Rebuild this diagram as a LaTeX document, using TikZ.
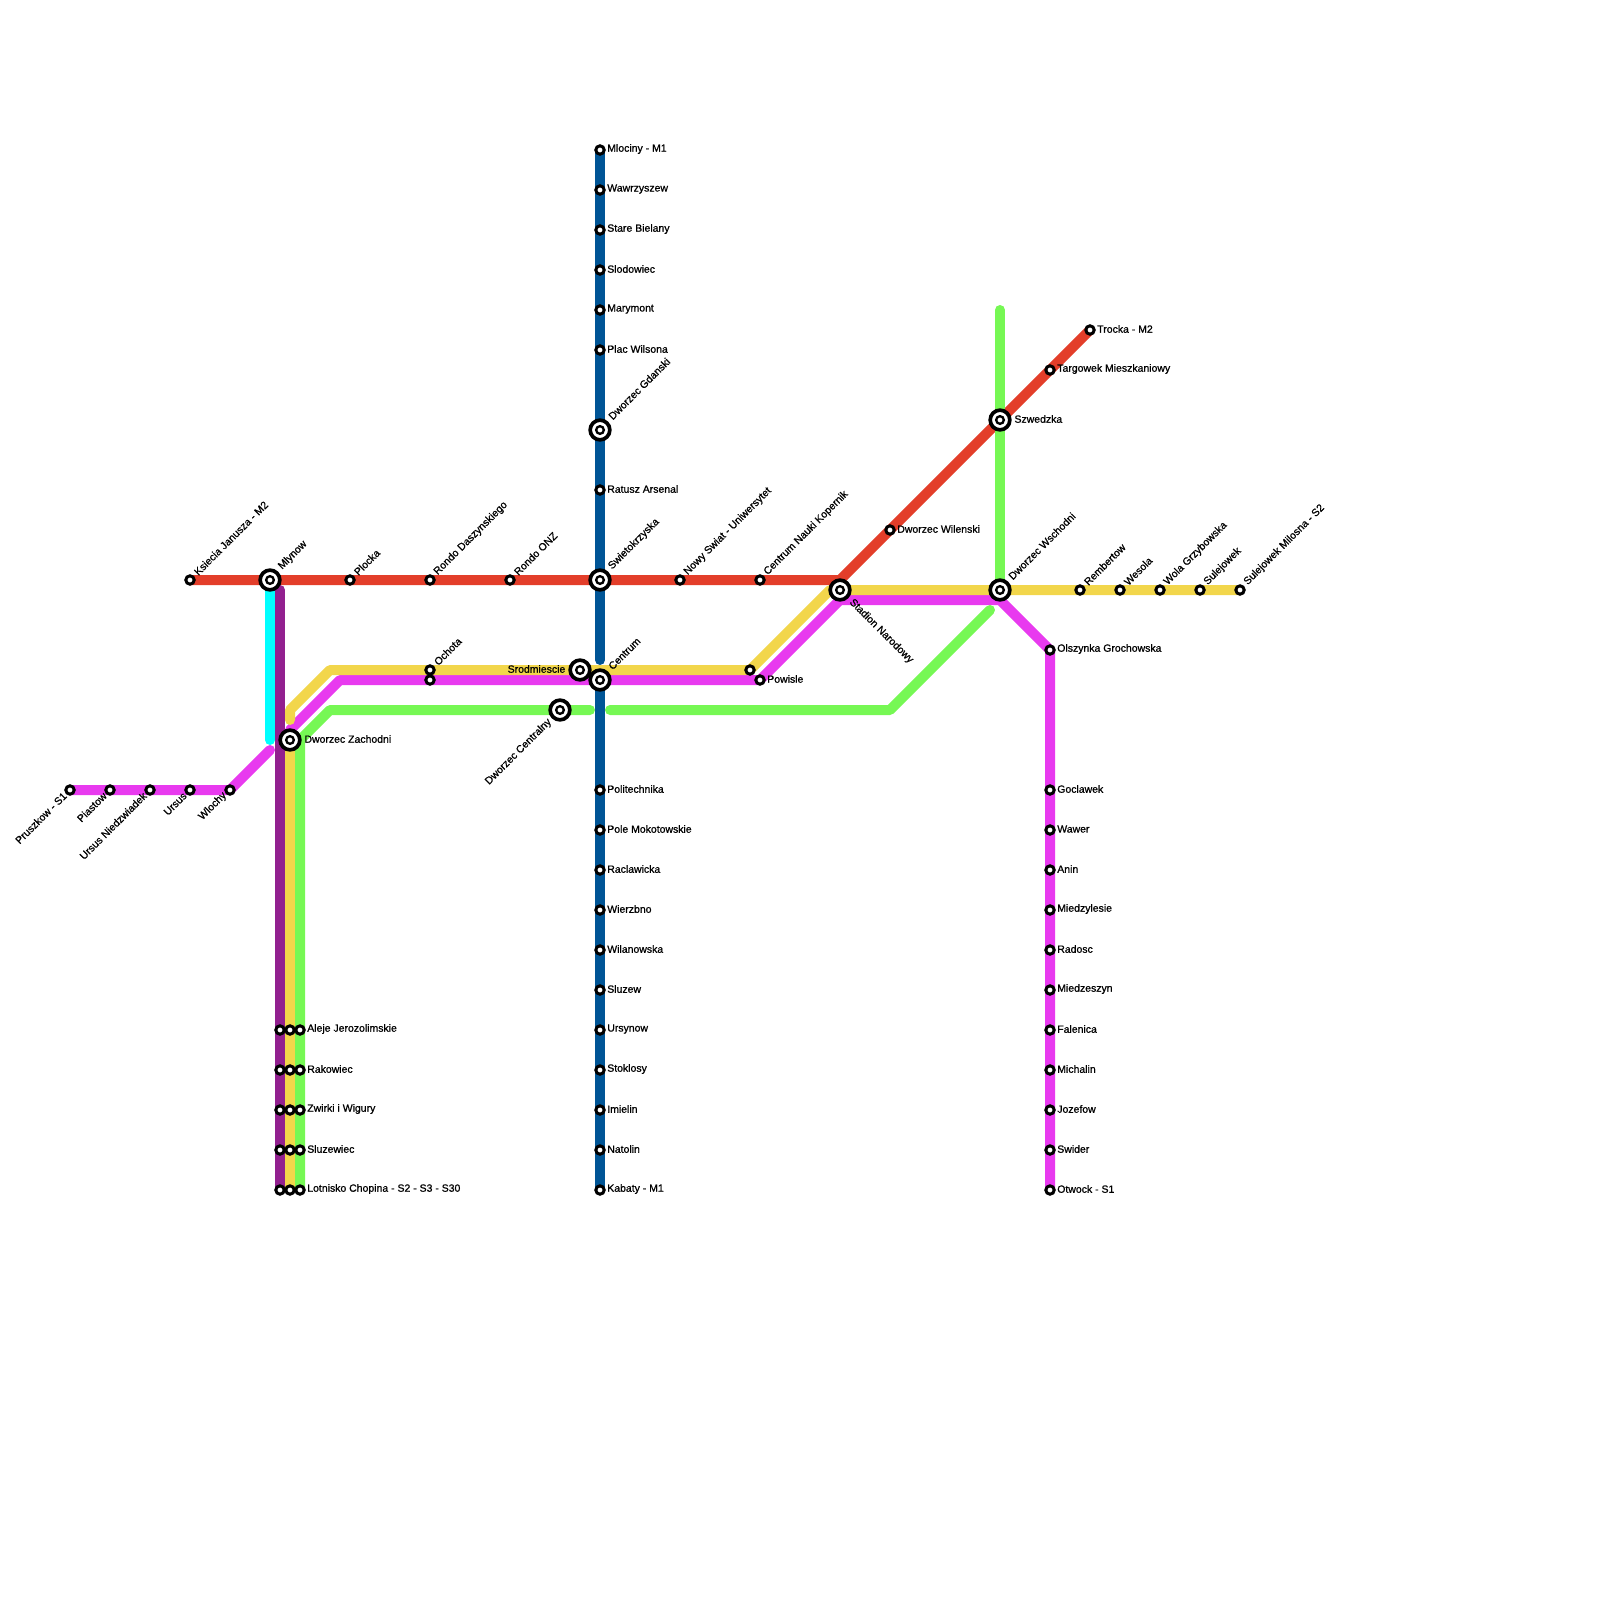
\documentclass[tikz,border=0pt]{standalone}
\usepackage{fontspec}
\usepackage{xcolor}
\setmainfont{Liberation Sans}
\newfontfamily\lblfont{Liberation Sans}[FakeBold=0.9]
\usetikzlibrary{positioning,backgrounds}
\definecolor{linered}{HTML}{E33E2A}
\definecolor{lineblue}{HTML}{005596}
\definecolor{lineyellow}{HTML}{F2D64B}
\definecolor{linepink}{HTML}{E83AEF}
\definecolor{linegreen}{HTML}{76F854}
\definecolor{linecyan}{HTML}{00FFFF}
\definecolor{linepurple}{HTML}{92208F}
\begin{document}
\begin{tikzpicture}[
    x=0.25mm, y=-0.25mm,
    node distance=10mm, on grid,
    lbtext/.style={font=\lblfont\fontsize{7.45pt}{8pt}\selectfont, inner sep=0pt, text=black},
    stn/.style={circle, draw=black, fill=white, line width=0.75mm, minimum size=2.1mm, inner sep=0pt, outer sep=0pt},
    hub/.style={circle, draw=black, fill=white, line width=0.92mm, minimum size=4.92mm, inner sep=0pt, outer sep=0pt,
      path picture={\draw[black, line width=0.58mm] (path picture bounding box.center) circle (0.96mm);}},
    lbl/.style 2 args={append after command={node[lbtext, #1, name=\tikzlastnode-lb] at (\tikzlastnode.center) {#2}}},
    rlab/.style={lbl={anchor=west, xshift=1.75mm, yshift=0.25mm}{#1}},
    ulab/.style={lbl={anchor=west, xshift=1.4mm, yshift=1.6mm, rotate=45}{#1}},
    dlab/.style={lbl={anchor=east, xshift=-1.25mm, yshift=-1mm, rotate=45}{#1}},
    hrlab/.style={lbl={anchor=west, xshift=3.55mm, yshift=0.25mm}{#1}},
    hulab/.style={lbl={anchor=west, xshift=2.5mm, yshift=3mm, rotate=45}{#1}},
    ln/.style={line width=2.5mm, line cap=round, line join=round}
  ]
    % main metro line
    \node[stn, rlab=Mlociny - M1] (mloc) at (600,150) {};
    \node[stn, rlab=Wawrzyszew, below=of mloc] (wawr) {};
    \node[stn, rlab=Stare Bielany, below=of wawr] (star) {};
    \node[stn, rlab=Slodowiec, below=of star] (slod) {};
    \node[stn, rlab=Marymont, below=of slod] (mary) {};
    \node[stn, rlab=Plac Wilsona, below=of mary] (wils) {};
    \node[hub, hulab=Dworzec Gdanski] (gdan) at (600,430) {};
    \node[stn, rlab=Ratusz Arsenal] (arse) at (600,490) {};
    \node[hub, hulab=Swietokrzyska] (swie) at (600,580) {};
    \node[hub, hulab=Centrum] (cent) at (600,680) {};
    \node[stn, rlab=Politechnika] (poli) at (600,790) {};
    \node[stn, rlab=Pole Mokotowskie, below=of poli] (pole) {};
    \node[stn, rlab=Raclawicka, below=of pole] (racl) {};
    \node[stn, rlab=Wierzbno, below=of racl] (wier) {};
    \node[stn, rlab=Wilanowska, below=of wier] (wila) {};
    \node[stn, rlab=Sluzew, below=of wila] (sluw) {};
    \node[stn, rlab=Ursynow, below=of sluw] (ursy) {};
    \node[stn, rlab=Stoklosy, below=of ursy] (stok) {};
    \node[stn, rlab=Imielin, below=of stok] (imie) {};
    \node[stn, rlab=Natolin, below=of imie] (nato) {};
    \node[stn, rlab=Kabaty - M1, below=of nato] (laka) {};
    % east-west line
    \node[stn, ulab=Ksiecia Janusza - M2] (ksie) at (190,580) {};
    \node[hub, hulab=Mlynow] (mlyn) at (270,580) {};
    \node[stn, ulab=Plocka] (ploc) at (350,580) {};
    \node[stn, ulab=Rondo Daszynskiego] (dasz) at (430,580) {};
    \node[stn, ulab=Rondo ONZ] (ronz) at (510,580) {};
    \node[stn, ulab=Nowy Swiat - Uniwersytet] (nowy) at (680,580) {};
    \node[stn, ulab=Centrum Nauki Kopernik] (kope) at (760,580) {};
    \node[stn, rlab=Dworzec Wilenski] (wile) at (890,530) {};
    \node[hub, hrlab=Szwedzka] (szwe) at (1000,420) {};
    \node[stn, rlab=Targowek Mieszkaniowy] (targ) at (1050,370) {};
    \node[stn, rlab=Trocka - M2] (troc) at (1090,330) {};
    % cross-city rail
    \node[stn, dlab=Pruszkow - S1] (prus) at (70,790) {};
    \node[stn, dlab=Piastow, right=of prus] (pias) {};
    \node[stn, dlab=Ursus Niedzwiadek, right=of pias] (niedz) {};
    \node[stn, dlab=Ursus, right=of niedz] (ursu) {};
    \node[stn, dlab=Wlochy, right=of ursu] (wloc) {};
    \node[hub, hrlab=Dworzec Zachodni] (zach) at (290,740) {};
    \node[stn, ulab=Ochota] (ocha) at (430,670) {};
    \node[stn] (ochb) at (430,680) {};
    \node[hub, lbl={anchor=east, xshift=-3.6mm, yshift=0.25mm}{Srodmiescie}] (srod) at (580,670) {};
    \node[hub, lbl={anchor=east, xshift=-2.5mm, yshift=-2.6mm, rotate=45}{Dworzec Centralny}] (cenr) at (560,710) {};
    \node[stn] (powa) at (750,670) {};
    \node[stn, rlab=Powisle] (powi) at (760,680) {};
    \node[hub, lbl={anchor=west, xshift=2.7mm, yshift=-2.7mm, rotate=-45}{Stadion Narodowy}] (stad) at (840,590) {};
    \node[hub, hulab=Dworzec Wschodni] (wsch) at (1000,590) {};
    \node[stn, ulab=Rembertow] (remb) at (1080,590) {};
    \node[stn, ulab=Wesola, right=of remb] (weso) {};
    \node[stn, ulab=Wola Grzybowska, right=of weso] (wola) {};
    \node[stn, ulab=Sulejowek, right=of wola] (sule) {};
    \node[stn, ulab=Sulejowek Milosna - S2, right=of sule] (milo) {};
    \node[stn, rlab=Olszynka Grochowska] (olsz) at (1050,650) {};
    \node[stn, rlab=Goclawek] (gocl) at (1050,790) {};
    \node[stn, rlab=Wawer, below=of gocl] (wawe) {};
    \node[stn, rlab=Anin, below=of wawe] (anin) {};
    \node[stn, rlab=Miedzylesie, below=of anin] (mied) {};
    \node[stn, rlab=Radosc, below=of mied] (rado) {};
    \node[stn, rlab=Miedzeszyn, below=of rado] (miez) {};
    \node[stn, rlab=Falenica, below=of miez] (fale) {};
    \node[stn, rlab=Michalin, below=of fale] (mich) {};
    \node[stn, rlab=Jozefow, below=of mich] (joze) {};
    \node[stn, rlab=Swider, below=of joze] (swid) {};
    \node[stn, rlab=Otwock - S1, below=of swid] (otwo) {};
    % airport branch, three tracks
    \node[stn] (alja) at (280,1030) {};
    \node[stn, right=2.5mm of alja] (aljb) {};
    \node[stn, rlab=Aleje Jerozolimskie, right=2.5mm of aljb] (aljc) {};
    \node[stn, below=of alja] (raka) {};
    \node[stn, below=of aljb] (rakb) {};
    \node[stn, rlab=Rakowiec, below=of aljc] (rakc) {};
    \node[stn, below=of raka] (zwia) {};
    \node[stn, below=of rakb] (zwib) {};
    \node[stn, rlab=Zwirki i Wigury, below=of rakc] (zwic) {};
    \node[stn, below=of zwia] (slua) {};
    \node[stn, below=of zwib] (slub) {};
    \node[stn, rlab=Sluzewiec, below=of zwic] (sluc) {};
    \node[stn, below=of slua] (lota) {};
    \node[stn, below=of slub] (lotb) {};
    \node[stn, rlab=Lotnisko Chopina - S2 - S3 - S30, below=of sluc] (lotc) {};
    % bends and free ends
    \coordinate (redbend) at (840,580);
    \coordinate (cyanend) at (270,740);
    \coordinate (purptop) at (280,590);
    \coordinate (bluegap) at (600,660);
    \coordinate (pinkend) at (270,750);
    \coordinate (pinkstart) at (290,730);
    \coordinate (pinkbenda) at (340,680);
    \coordinate (pinkbendb) at (840,600);
    \coordinate (pinkbendc) at (1000,600);
    \coordinate (yellowtip) at (290,720);
    \coordinate (yellowbenda) at (290,710);
    \coordinate (yellowbendb) at (330,670);
    \coordinate (yellowbendc) at (830,590);
    \coordinate (greenbenda) at (300,740);
    \coordinate (greenbendb) at (330,710);
    \coordinate (greengapl) at (590,710);
    \coordinate (greengapr) at (610,710);
    \coordinate (greenbendc) at (890,710);
    \coordinate (greenend) at (990,610);
    \coordinate (greentop) at (1000,310);
    \begin{scope}[on background layer]
      \draw[ln, linered] (ksie.center) -- (redbend) -- (troc.center);
      \draw[ln, linecyan] (mlyn.center) -- (cyanend);
      \draw[ln, lineblue] (mloc.center) -- (bluegap);
      \draw[ln, lineblue] (cent.center) -- (laka.center);
      \draw[ln, linepink] (prus.center) -- (wloc.center) -- (pinkend);
      \draw[ln, linepink] (pinkstart) -- (pinkbenda) -- (powi.center) -- (pinkbendb) -- (pinkbendc) -- (olsz.center) -- (otwo.center);
      \draw[ln, linepurple] (purptop) -- (lota.center);
      \draw[ln, lineyellow] (zach.center) -- (lotb.center);
      \draw[ln, lineyellow] (yellowtip) -- (yellowbenda) -- (yellowbendb) -- (powa.center) -- (yellowbendc) -- (milo.center);
      \draw[ln, linegreen] (lotc.center) -- (greenbenda) -- (greenbendb) -- (greengapl);
      \draw[ln, linegreen] (greengapr) -- (greenbendc) -- (greenend);
      \draw[ln, linegreen] (greentop) -- (wsch.center);
    \end{scope}
    \useasboundingbox (0,0) rectangle (1600,1600);
  \end{tikzpicture}
\end{document}
